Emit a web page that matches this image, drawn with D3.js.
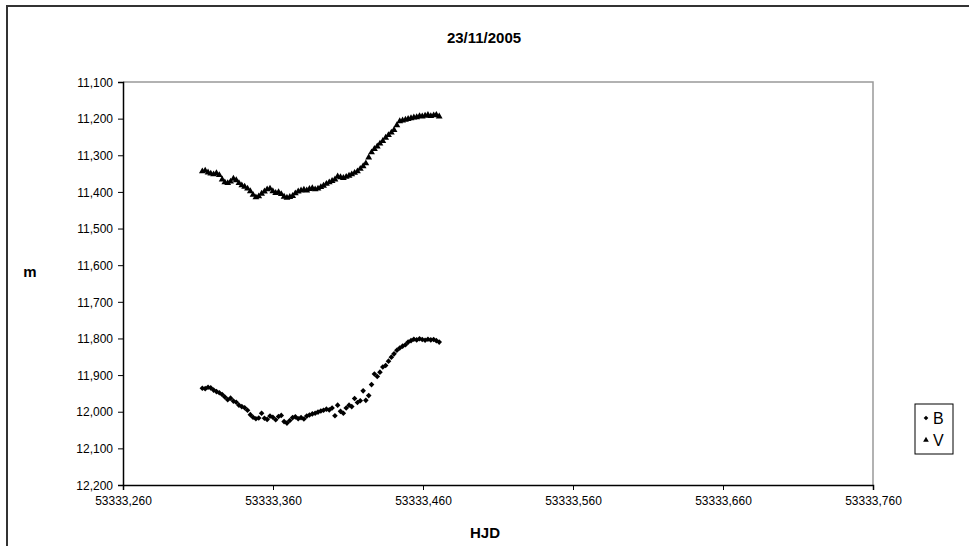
<!DOCTYPE html>
<html>
<head>
<meta charset="utf-8">
<script src="https://cdn.jsdelivr.net/npm/d3@7"></script>
<style>
  body { margin: 0; background: #fff; }
  svg { display: block; font-family: "Liberation Sans", Arial, sans-serif; }
  .tick text { font-size: 12px; fill: #000; }
</style>
</head>
<body>
<div id="chart"></div>
<script>
const title = "23/11/2005";
const xTitle = "HJD";
const yTitle = "m";
const seriesNames = ["B", "V"];

const hjdBase = 53333;
const xTicks = [0.26, 0.36, 0.46, 0.56, 0.66, 0.76];
const yTicks = [11.1, 11.2, 11.3, 11.4, 11.5, 11.6, 11.7, 11.8, 11.9, 12.0, 12.1, 12.2];

// HJD - 53333, shared by both filters
const hjdOffset = [
  0.3129, 0.3148, 0.3167, 0.3185, 0.3204, 0.3223, 0.3242, 0.3261, 0.3279, 0.3298,
  0.3317, 0.3336, 0.3355, 0.3373, 0.3392, 0.3411, 0.3430, 0.3449, 0.3467, 0.3486,
  0.3505, 0.3524, 0.3543, 0.3561, 0.3580, 0.3599, 0.3618, 0.3637, 0.3655, 0.3674,
  0.3693, 0.3712, 0.3731, 0.3749, 0.3768, 0.3787, 0.3806, 0.3825, 0.3843, 0.3862,
  0.3881, 0.3900, 0.3919, 0.3937, 0.3956, 0.3975, 0.3994, 0.4013, 0.4031, 0.4050,
  0.4069, 0.4088, 0.4107, 0.4125, 0.4144, 0.4163, 0.4182, 0.4201, 0.4219, 0.4238,
  0.4257, 0.4276, 0.4295, 0.4313, 0.4332, 0.4351, 0.4370, 0.4389, 0.4407, 0.4426,
  0.4445, 0.4464, 0.4483, 0.4501, 0.4520, 0.4539, 0.4558, 0.4577, 0.4595, 0.4614,
  0.4633, 0.4652, 0.4671, 0.4689, 0.4708
];

const magB = [
  11.936, 11.937, 11.933, 11.935, 11.941, 11.945, 11.948, 11.953, 11.960, 11.967,
  11.963, 11.971, 11.974, 11.982, 11.986, 11.989, 11.996, 12.008, 12.015, 12.019,
  12.017, 12.004, 12.018, 12.021, 12.012, 12.015, 12.022, 12.013, 12.010, 12.027,
  12.031, 12.024, 12.016, 12.014, 12.019, 12.016, 12.020, 12.012, 12.009, 12.006,
  12.004, 12.001, 11.998, 11.996, 11.993, 11.995, 11.990, 12.011, 11.982, 11.999,
  12.004, 11.990, 11.982, 11.986, 11.964, 11.975, 11.970, 11.943, 11.969, 11.956,
  11.926, 11.897, 11.904, 11.892, 11.878, 11.874, 11.862, 11.851, 11.842, 11.832,
  11.826, 11.821, 11.817, 11.810, 11.806, 11.802, 11.804, 11.801, 11.803, 11.805,
  11.802, 11.804, 11.803, 11.806, 11.810
];

const magV = [
  11.344, 11.342, 11.347, 11.350, 11.352, 11.349, 11.354, 11.366, 11.374, 11.376,
  11.372, 11.364, 11.368, 11.376, 11.382, 11.386, 11.391, 11.398, 11.408, 11.415,
  11.412, 11.405, 11.399, 11.393, 11.391, 11.398, 11.403, 11.401, 11.406, 11.413,
  11.416, 11.414, 11.411, 11.404, 11.399, 11.396, 11.394, 11.396, 11.392, 11.390,
  11.393, 11.391, 11.387, 11.383, 11.378, 11.374, 11.370, 11.366, 11.358, 11.360,
  11.362, 11.359, 11.356, 11.352, 11.348, 11.344, 11.337, 11.330, 11.322, 11.306,
  11.292, 11.283, 11.276, 11.268, 11.261, 11.252, 11.245, 11.238, 11.231, 11.218,
  11.207, 11.205, 11.203, 11.201, 11.199, 11.197, 11.196, 11.193, 11.194, 11.192,
  11.190, 11.193, 11.191, 11.190, 11.194
];

const width = 969;
const height = 546;
const plot = { left: 123, right: 873, top: 82, bottom: 485 };

const locale = d3.formatLocale({ decimal: ",", thousands: ".", grouping: [3], currency: ["", ""] });
const fmtX = v => locale.format(".3f")(hjdBase + v);
const fmtY = v => locale.format(".3f")(v).replace(".", ",");

const svg = d3.select("#chart")
  .append("svg")
  .attr("width", width)
  .attr("height", height);

// outer chart frame
svg.append("rect")
  .attr("x", 7).attr("y", 6)
  .attr("width", 1200).attr("height", 1200)
  .attr("fill", "none")
  .attr("stroke", "#333")
  .attr("stroke-width", 2);

const x = d3.scaleLinear()
  .domain([xTicks[0], xTicks[xTicks.length - 1]])
  .range([plot.left, plot.right]);

const y = d3.scaleLinear()
  .domain([yTicks[0], yTicks[yTicks.length - 1]])
  .range([plot.top, plot.bottom]);

// plot area border (top and right in grey)
svg.append("path")
  .attr("d", `M${plot.left},${plot.top}H${plot.right}V${plot.bottom}`)
  .attr("fill", "none")
  .attr("stroke", "#999")
  .attr("stroke-width", 1.5);

const xAxis = svg.append("g")
  .attr("transform", `translate(0,${plot.bottom})`)
  .call(d3.axisBottom(x).tickValues(xTicks).tickFormat(fmtX).tickSize(5).tickPadding(6));

const yAxis = svg.append("g")
  .attr("transform", `translate(${plot.left},0)`)
  .call(d3.axisLeft(y).tickValues(yTicks).tickFormat(fmtY).tickSize(5).tickPadding(5));

[xAxis, yAxis].forEach(g => {
  g.select(".domain").attr("stroke", "#000").attr("stroke-width", 1.5);
  g.selectAll(".tick line").attr("stroke", "#000");
  g.selectAll(".tick text").attr("font-family", "'Liberation Sans', Arial, sans-serif");
});
yAxis.selectAll(".tick text").attr("dy", "0.35em");

// titles
svg.append("text")
  .attr("x", 484).attr("y", 43)
  .attr("text-anchor", "middle")
  .attr("font-size", 15).attr("font-weight", "bold")
  .text(title);

svg.append("text")
  .attr("x", 485).attr("y", 538)
  .attr("text-anchor", "middle")
  .attr("font-size", 15).attr("font-weight", "bold")
  .text(xTitle);

svg.append("text")
  .attr("x", 30).attr("y", 277)
  .attr("text-anchor", "middle")
  .attr("font-size", 15).attr("font-weight", "bold")
  .text(yTitle);

const symB = d3.symbol(d3.symbolDiamond2, 20);
const symV = d3.symbol(d3.symbolTriangle, 20);

const dataB = hjdOffset.map((t, i) => ({ t, m: magB[i] }));
const dataV = hjdOffset.map((t, i) => ({ t, m: magV[i] }));

svg.append("g").selectAll("path")
  .data(dataB)
  .enter()
  .append("path")
  .attr("d", symB)
  .attr("transform", d => `translate(${x(d.t)},${y(d.m)})`)
  .attr("fill", "#000");

svg.append("g").selectAll("path")
  .data(dataV)
  .enter()
  .append("path")
  .attr("d", symV)
  .attr("transform", d => `translate(${x(d.t)},${y(d.m)})`)
  .attr("fill", "#000");

// legend
const legend = svg.append("g").attr("transform", "translate(915,404)");
legend.append("rect")
  .attr("width", 38).attr("height", 50)
  .attr("fill", "#fff")
  .attr("stroke", "#000")
  .attr("stroke-width", 1);

const legendSymB = d3.symbol(d3.symbolDiamond2, 14);
const legendSymV = d3.symbol(d3.symbolTriangle, 14);
const legendSyms = [legendSymB, legendSymV];
seriesNames.forEach((name, i) => {
  const row = legend.append("g").attr("transform", `translate(0,${14 + i * 22})`);
  row.append("path")
    .attr("d", legendSyms[i])
    .attr("transform", "translate(11,0)")
    .attr("fill", "#000");
  row.append("text")
    .attr("x", 18).attr("y", 0)
    .attr("dy", "0.35em")
    .attr("font-size", 16)
    .text(name);
});
</script>
</body>
</html>
